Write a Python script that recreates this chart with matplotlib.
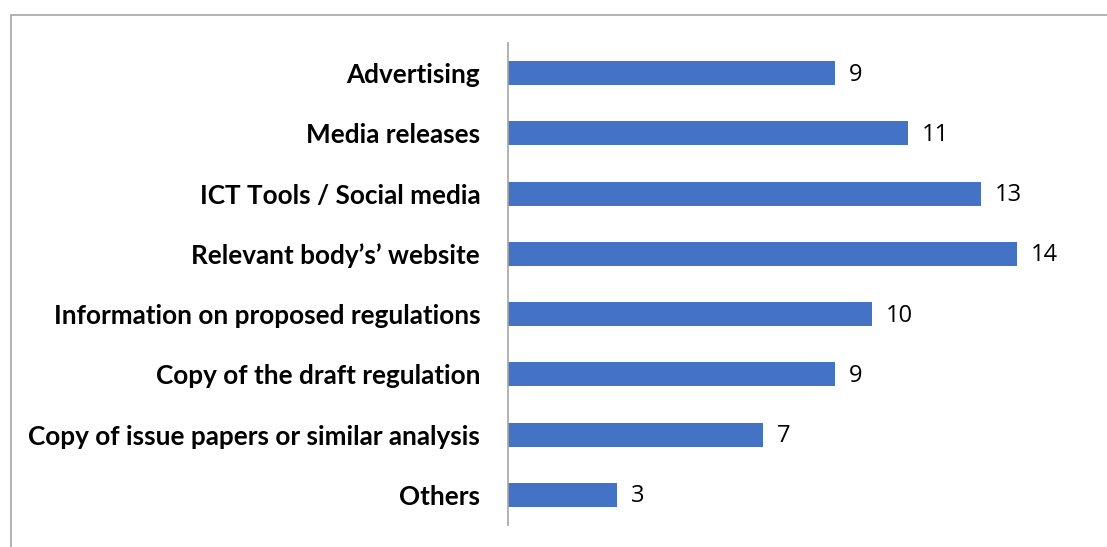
import matplotlib
matplotlib.use("Agg")
import matplotlib.pyplot as plt
from matplotlib.patches import Rectangle

categories = [
    "Advertising",
    "Media releases",
    "ICT Tools / Social media",
    "Relevant body\u2019s\u2019 website",
    "Information on proposed regulations",
    "Copy of the draft regulation",
    "Copy of issue papers or similar analysis",
    "Others",
]
values = [9, 11, 13, 14, 10, 9, 7, 3]

W, H = 1107, 547
fig = plt.figure(figsize=(W / 100, H / 100), dpi=100)
fig.patch.set_facecolor("white")

# chart-area frame (runs off the right and bottom edges)
fig.patches.append(Rectangle((10.5 / W, 0 - 0.05), 1.2, 1 - 14.5 / H + 0.05,
                             transform=fig.transFigure, fill=False,
                             edgecolor="#A6A6A6", linewidth=1.2))

ax = fig.add_axes([508 / W, 1 - 525 / H, (1090 - 508) / W, (525 - 43) / H])
pos = list(range(len(categories)))
ax.barh(pos, values, height=0.4, color="#4472C4")
ax.set_ylim(len(categories) - 0.5, -0.5)
ax.set_xlim(0, 16)

ax.set_yticks(pos)
ax.set_yticklabels(categories, fontfamily="Lato", fontweight="bold",
                   fontsize=18.8, color="black")
ax.tick_params(axis="y", length=0, pad=20)
ax.set_xticks([])

for s in ["top", "right", "bottom"]:
    ax.spines[s].set_visible(False)
ax.spines["left"].set_color("#A6A6A6")
ax.spines["left"].set_linewidth(1.2)

for p, v in zip(pos, values):
    ax.annotate(str(v), (v, p), xytext=(10, -1), textcoords="offset points",
                va="center", ha="left", fontsize=17, fontfamily="Open Sans",
                color="black")

fig.savefig("out.png", dpi=100)
